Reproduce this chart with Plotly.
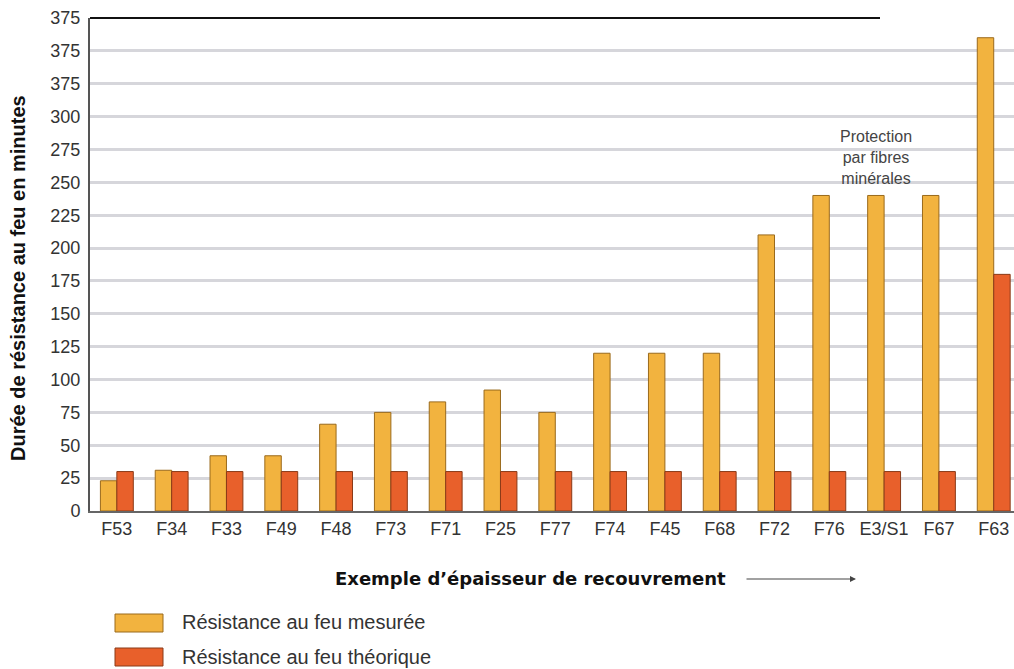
import plotly.graph_objects as go

categories = ["F53", "F34", "F33", "F49", "F48", "F73", "F71", "F25", "F77",
              "F74", "F45", "F68", "F72", "F76", "E3/S1", "F67", "F63"]
mesuree = [23, 31, 42, 42, 66, 75, 83, 92, 75, 120, 120, 120, 210, 240, 240, 240, 360]
theorique = [30, 30, 30, 30, 30, 30, 30, 30, 30, 30, 30, 30, 30, 30, 30, 30, 180]

y_tickvals = [0, 25, 50, 75, 100, 125, 150, 175, 200, 225, 250, 275, 300, 325, 350, 375]
y_ticktext = ["0", "25", "50", "75", "100", "125", "150", "175", "200", "225",
              "250", "275", "300", "375", "375", "375"]

C_MES = "#F2B33F"
C_THE = "#E8602B"
FONT = "Liberation Sans, Arial, sans-serif"

L, T, W, H = 90, 18, 924, 493


def px(x):
    return (x - L) / W


def py(y):
    return (T + H - y) / H


fig = go.Figure()
fig.add_trace(go.Bar(x=categories, y=mesuree, name="Résistance au feu mesurée",
                     marker=dict(color=C_MES, line=dict(color="#9a6a1c", width=1)),
                     showlegend=False))
fig.add_trace(go.Bar(x=categories, y=theorique, name="Résistance au feu théorique",
                     marker=dict(color=C_THE, line=dict(color="#8a3a18", width=1)),
                     showlegend=False))

fig.update_layout(
    width=1014, height=669,
    margin=dict(l=L, r=1014 - L - W, t=T, b=669 - T - H, autoexpand=False),
    paper_bgcolor="white", plot_bgcolor="white",
    barmode="group", bargap=0.4, bargroupgap=0,
    font=dict(family=FONT, color="#333333", size=18),
    xaxis=dict(type="category", range=[-0.49, 16.37], showgrid=False,
               showline=True, linecolor="#666666", linewidth=2, automargin=False,
               ticks="", tickfont=dict(size=18, color="#333333")),
    yaxis=dict(range=[0, 375], tickvals=y_tickvals, ticktext=y_ticktext,
               showgrid=True, gridcolor="#d6d6db", gridwidth=2.5,
               showline=True, linecolor="#555555", linewidth=2, automargin=False,
               ticks="", zeroline=False, ticklabelstandoff=4,
               tickfont=dict(size=18, color="#333333")),
)

shapes = [
    dict(type="line", xref="paper", yref="paper", x0=0, x1=px(880), y0=1, y1=1,
         line=dict(color="#111111", width=2)),
    # legend swatches
    dict(type="rect", xref="paper", yref="paper",
         x0=px(115), x1=px(163), y0=py(632), y1=py(614),
         fillcolor=C_MES, line=dict(color="#9a6a1c", width=1)),
    dict(type="rect", xref="paper", yref="paper",
         x0=px(115), x1=px(163), y0=py(666), y1=py(648),
         fillcolor=C_THE, line=dict(color="#8a3a18", width=1)),
]

annotations = [
    dict(xref="paper", yref="paper", x=px(18), y=py(278),
         text="<b>Durée de résistance au feu en minutes</b>", showarrow=False,
         textangle=-90, font=dict(size=20, color="#111111"),
         xanchor="center", yanchor="middle"),
    dict(xref="paper", yref="paper", x=px(530), y=py(578),
         text="<b>Exemple d’épaisseur de recouvrement</b>", showarrow=False,
         font=dict(size=18, family="DejaVu Sans, Arial Black, sans-serif", color="#111111"),
         xanchor="center", yanchor="middle"),
    dict(xref="paper", yref="paper", axref="pixel", ayref="pixel",
         x=px(856), y=py(579), ax=-111, ay=0,
         text="", showarrow=True, arrowhead=2, arrowsize=1, arrowwidth=1.2,
         arrowcolor="#444444"),
    dict(xref="paper", yref="paper", x=px(180), y=py(622),
         text="Résistance au feu mesurée", showarrow=False,
         font=dict(size=20, color="#333333"), xanchor="left", yanchor="middle"),
    dict(xref="paper", yref="paper", x=px(180), y=py(657),
         text="Résistance au feu théorique", showarrow=False,
         font=dict(size=20, color="#333333"), xanchor="left", yanchor="middle"),
    dict(xref="paper", yref="paper", x=px(876), y=py(157),
         text="Protection<br>par fibres<br>minérales", showarrow=False,
         font=dict(size=16, color="#444444"), xanchor="center", yanchor="middle",
         align="center"),
]

fig.update_layout(shapes=shapes, annotations=annotations)
fig.write_html("out.html", config={"displayModeBar": False},
               post_script="document.body.style.margin='0';")
